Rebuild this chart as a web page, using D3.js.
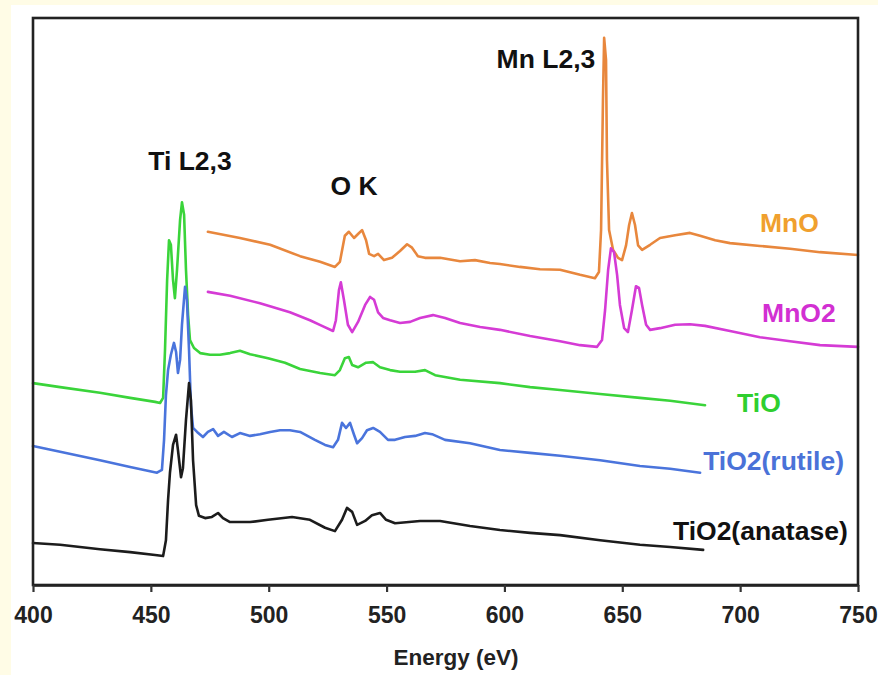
<!DOCTYPE html>
<html>
<head>
<meta charset="utf-8">
<script src="https://cdn.jsdelivr.net/npm/d3@7"></script>
<style>
  html, body { margin: 0; padding: 0; background: #fffce6; }
  svg { display: block; }
  text { font-family: "Liberation Sans", Arial, sans-serif; font-weight: bold; }
</style>
</head>
<body>
<svg id="chart" width="878" height="675"></svg>
<script>
// ---------------- DATA (energy in eV, intensity in arbitrary units, stacked offsets) ----------------
const xTicks = [400, 450, 500, 550, 600, 650, 700, 750];

const anataseE = [400,411.5,428.4,441.2,451.8,455.2,456.4,457.3,458.1,459.4,460.7,461.5,462.8,463.6,464.9,466.2,467.0,467.9,469.2,470.4,473.0,475.9,478.5,480.6,483.6,492.1,499.7,509.9,517.5,523.9,528.1,531.1,533.2,535.4,537.5,540.9,543.8,547.2,549.8,553.6,564.2,572.7,585.4,598.1,610.9,623.6,640.6,657.5,670.3,684.3];
const anataseI = [7.4,7.1,6.3,5.8,5.3,5.1,7.9,15.0,19.8,24.7,26.5,23.8,19.0,20.6,29.1,35.6,32.6,22.0,14.1,12.2,11.8,12.0,12.7,11.8,11.1,11.1,11.5,12.0,11.5,10.1,9.5,11.5,13.6,12.9,10.6,11.3,12.3,12.7,11.5,10.9,11.3,11.3,10.4,9.7,9.2,8.8,7.9,7.1,6.7,6.2];

const rutileE = [400,411.5,428.4,441.2,452.6,454.7,455.6,456.4,457.3,458.5,459.8,460.7,461.5,462.4,463.2,464.5,465.3,466.2,467.0,467.9,469.6,472.1,474.2,476.4,478.5,481.0,484.4,487.8,492.1,496.3,500.6,504.8,509.0,513.3,519.6,523.9,527.3,529.4,531.1,532.8,534.5,536.2,537.5,539.6,541.7,544.3,547.2,550.6,553.6,557.8,562.1,566.3,569.3,574.8,585.4,598.1,610.9,623.6,640.6,657.5,670.3,683.0];
const rutileI = [24.5,23.5,22.0,20.8,19.8,20.3,25.6,33.5,37.9,40.6,42.7,41.1,37.4,39.7,45.9,52.6,50.3,41.4,31.7,27.7,27.0,26.1,27.0,27.5,26.3,27.0,26.1,26.8,26.3,26.6,27.0,27.3,27.3,27.0,25.6,24.7,24.3,25.6,28.6,27.7,28.6,26.5,25.0,25.9,27.3,27.7,27.0,25.6,25.6,26.1,26.3,26.8,26.6,25.6,25.0,23.8,23.3,22.8,22.0,21.0,20.5,19.8];

const tioE = [400,411.5,428.4,441.2,451.8,453.9,455.2,456.0,456.9,457.7,458.5,459.4,460.2,461.1,462.4,463.2,464.1,464.9,465.8,466.6,468.3,470.9,475.1,479.3,483.6,487.8,492.1,499.7,506.9,513.3,521.8,528.1,530.2,532.3,534.0,535.4,537.9,541.3,544.3,547.2,551.5,555.7,562.1,566.3,570.6,581.2,598.1,610.9,623.6,640.6,657.5,670.3,685.1];
const tioI = [35.6,34.9,33.9,33.0,32.3,32.1,33.0,41.4,53.8,60.8,60.0,53.8,50.6,55.6,64.4,67.5,65.3,55.6,47.6,43.2,41.8,40.9,40.6,40.6,40.9,41.3,40.7,40.0,39.2,38.1,37.4,37.0,37.9,40.0,40.2,38.8,38.4,39.2,39.3,38.4,37.9,37.6,37.6,37.9,37.0,36.2,35.6,34.9,34.4,33.7,33.0,32.5,31.7];

const mno2E = [474.2,483.6,496.3,509.0,517.5,522.6,527.3,528.5,529.8,530.6,531.9,533.6,535.4,537.9,540.9,543.0,544.7,546.4,548.5,551.5,555.7,560.0,564.2,569.7,574.8,581.2,589.7,598.1,610.9,623.6,632.1,639.3,641.4,642.7,644.0,645.2,646.5,647.8,649.0,650.8,652.4,654.1,655.8,657.1,658.4,660.1,661.8,666.0,672.4,678.7,685.1,695.7,708.4,721.2,733.9,750.0];
const mno2I = [51.7,51.0,49.7,48.1,46.7,45.7,44.8,46.7,52.0,53.4,50.3,45.9,44.6,46.4,49.4,50.8,50.3,48.1,47.1,46.7,46.2,46.4,47.1,47.6,47.1,46.2,45.5,45.0,43.9,43.0,42.3,42.0,43.2,48.5,55.6,59.4,58.7,54.7,49.4,45.3,44.6,48.5,52.7,52.4,49.4,45.9,45.0,45.3,45.9,46.0,45.7,44.8,43.7,43.0,42.3,42.0];

const mnoE = [474.2,487.8,500.6,513.3,521.8,528.1,530.2,532.3,534.0,536.2,537.9,539.6,541.3,542.6,544.7,546.4,548.9,552.3,555.7,558.7,560.8,563.3,566.3,572.7,581.2,587.5,593.9,598.1,606.6,615.1,623.6,632.1,638.4,640.1,641.0,641.8,642.3,643.1,643.5,644.4,646.1,648.2,649.9,651.6,652.9,654.1,655.4,656.7,658.4,661.8,666.0,672.4,678.7,683.0,689.4,695.7,708.4,721.2,733.9,750.0];
const mnoI = [62.3,61.2,60.0,58.0,57.0,56.1,57.0,61.6,62.3,61.2,61.9,62.6,60.8,58.4,58.0,58.4,57.3,57.7,58.9,60.1,59.5,58.0,57.7,57.7,57.1,57.3,56.8,56.6,56.1,55.7,55.6,54.7,54.1,55.2,62.6,85.5,96.5,92.6,75.0,62.6,59.1,57.7,57.3,59.9,63.5,65.6,63.5,59.9,59.1,60.0,61.2,61.7,62.1,61.6,60.8,60.3,59.8,59.3,58.7,58.2];

const seriesNames  = ["MnO", "MnO2", "TiO", "TiO2(rutile)", "TiO2(anatase)"];
const seriesLabelE = [708.4, 709.3, 698.7, 684.3, 671.5];   // label start (eV)
const seriesLabelI = [62.2, 46.4, 30.5, 20.3, 7.9];         // label baseline (a.u.)
const annotations  = ["Ti L2,3", "O K", "Mn L2,3"];
const annotE       = [466.6, 536.2, 617.6];                 // label centre (eV)
const annotI       = [73.2, 68.8, 91.2];

// ---------------- LAYOUT ----------------
const W = 878, H = 675;
const margin = {left: 33, right: 20, top: 18, bottom: 90};
const svg = d3.select("#chart");

svg.append("rect").attr("x", 0).attr("y", 0).attr("width", W).attr("height", H).attr("fill", "#fffce6");
svg.append("rect").attr("x", 11).attr("y", 5).attr("width", W - 11).attr("height", H - 5).attr("fill", "#ffffff");

const x = d3.scaleLinear().domain([400, 750]).range([margin.left, W - margin.right]);
const y = d3.scaleLinear().domain([0, 100]).range([H - margin.bottom, margin.top]);

const lineColors  = ["#e8873d", "#d53bd5", "#3ad43a", "#4a74dc", "#1c1c1c"];
const labelColors = ["#f0a02e", "#d22fd2", "#2fcf2f", "#4a72d8", "#111111"];

const seriesData = [
  d3.zip(mnoE, mnoI),
  d3.zip(mno2E, mno2I),
  d3.zip(tioE, tioI),
  d3.zip(rutileE, rutileI),
  d3.zip(anataseE, anataseI)
];

const line = d3.line().x(d => x(d[0])).y(d => y(d[1]));

const plot = svg.append("g");
seriesData.forEach((s, i) => {
  plot.append("path")
    .datum(s)
    .attr("d", line)
    .attr("fill", "none")
    .attr("stroke", lineColors[i])
    .attr("stroke-width", 2.6)
    .attr("stroke-linejoin", "round")
    .attr("stroke-linecap", "round");
});

// frame
svg.append("rect")
  .attr("x", x(400)).attr("y", y(100))
  .attr("width", x(750) - x(400)).attr("height", y(0) - y(100))
  .attr("fill", "none").attr("stroke", "#222").attr("stroke-width", 2.6);

// x axis
const xAxis = d3.axisBottom(x).tickValues(xTicks).tickSize(7).tickSizeOuter(0).tickPadding(15).tickFormat(d3.format("d"));
const gx = svg.append("g").attr("transform", `translate(0,${y(0)})`).call(xAxis);
gx.select(".domain").attr("stroke", "#222").attr("stroke-width", 2.6);
gx.selectAll(".tick line").attr("stroke", "#333").attr("stroke-width", 2.2);
gx.selectAll(".tick text").attr("fill", "#222").style("font-size", "23px").style("font-weight", "bold")
  .style("font-family", "'Liberation Sans', Arial, sans-serif");

svg.append("text")
  .attr("x", 456).attr("y", 665)
  .attr("text-anchor", "middle")
  .attr("fill", "#222")
  .style("font-size", "22.5px")
  .text("Energy (eV)");

// series labels
seriesNames.forEach((n, i) => {
  svg.append("text")
    .attr("x", x(seriesLabelE[i])).attr("y", y(seriesLabelI[i]))
    .attr("fill", labelColors[i])
    .style("font-size", "26.5px")
    .text(n);
});

// edge annotations
annotations.forEach((a, i) => {
  svg.append("text")
    .attr("x", x(annotE[i])).attr("y", y(annotI[i]))
    .attr("text-anchor", "middle")
    .attr("fill", "#111")
    .style("font-size", "26.5px")
    .text(a);
});
</script>
</body>
</html>
